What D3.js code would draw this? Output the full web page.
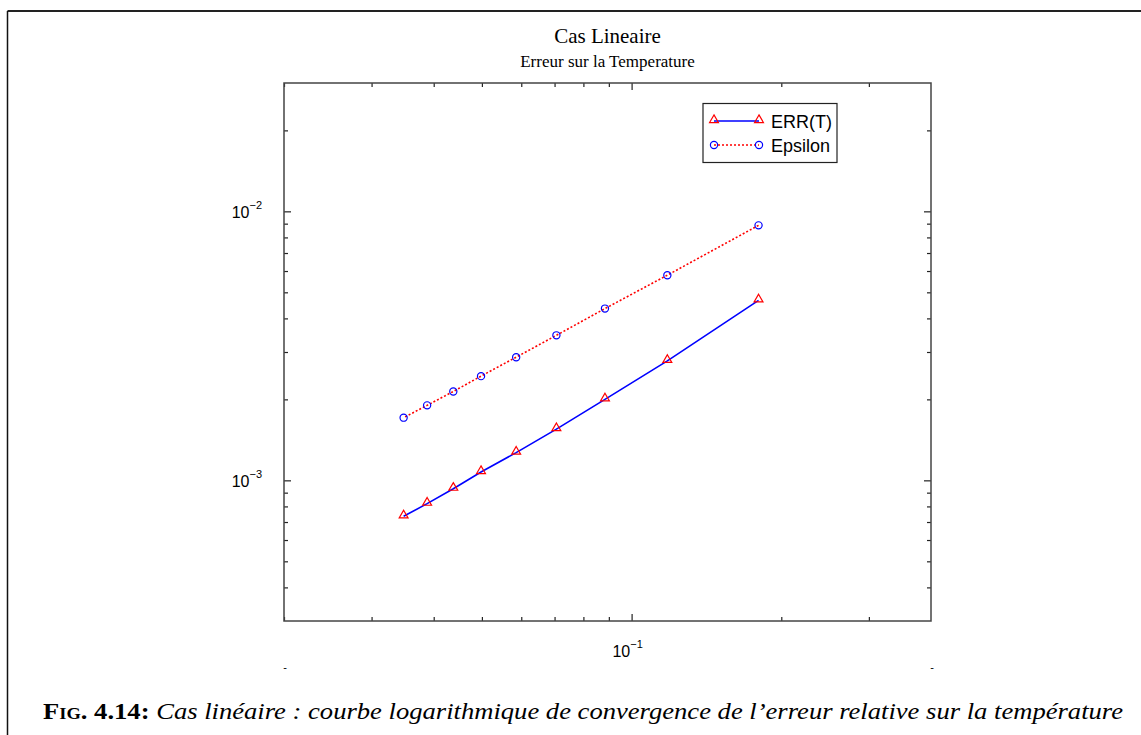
<!DOCTYPE html>
<html>
<head>
<meta charset="utf-8">
<script src="https://cdn.jsdelivr.net/npm/d3@7"></script>
<style>
  body { margin: 0; background: #fff; }
  svg { display: block; }
</style>
</head>
<body>
<div id="chart"></div>
<script>
// data
var hValues = [0.180, 0.118, 0.0884, 0.0706, 0.0586, 0.0498, 0.0438, 0.0388, 0.0348];
var errT    = [4.67e-3, 2.78e-3, 2.0e-3, 1.55e-3, 1.268e-3, 1.074e-3, 9.31e-4, 8.19e-4, 7.35e-4];
var epsilon = [8.87e-3, 5.79e-3, 4.35e-3, 3.46e-3, 2.87e-3, 2.44e-3, 2.14e-3, 1.90e-3, 1.71e-3];
var seriesNames = ["ERR(T)", "Epsilon"];
var xMajor = [0.1], xMinor = [0.02, 0.03, 0.04, 0.05, 0.06, 0.07, 0.08, 0.09, 0.2, 0.3];
var yMajor = [1e-3, 1e-2], yMinor = [4e-4, 5e-4, 6e-4, 7e-4, 8e-4, 9e-4, 2e-3, 3e-3, 4e-3, 5e-3, 6e-3, 7e-3, 8e-3, 9e-3, 2e-2];
var xTickLabels = {0.1: "-1"}, yTickLabels = {0.001: "-3", 0.01: "-2"};

var W = 1141, H = 735;
var pLeft = 284, pRight = 931, pTop = 83, pBottom = 621;

var svg = d3.select("#chart").append("svg").attr("width", W).attr("height", H);

// frame of the figure
svg.append("line").attr("x1", 7.5).attr("x2", W).attr("y1", 11).attr("y2", 11)
    .attr("stroke", "#222").attr("stroke-width", 2);
svg.append("line").attr("x1", 7.5).attr("x2", 7.5).attr("y1", 11).attr("y2", H)
    .attr("stroke", "#111").attr("stroke-width", 1.5);

var x = d3.scaleLog().domain([0.02, 0.4]).range([pLeft, pRight]);
var y = d3.scaleLog().domain([3e-4, 3e-2]).range([pBottom, pTop]);

// titles
svg.append("text").attr("x", (pLeft + pRight) / 2).attr("y", 43)
    .attr("text-anchor", "middle").style("font-family", "'Liberation Serif', 'Times New Roman', serif")
    .style("font-size", "21px").text("Cas Lineaire");
svg.append("text").attr("x", (pLeft + pRight) / 2).attr("y", 67)
    .attr("text-anchor", "middle").style("font-family", "'Liberation Serif', 'Times New Roman', serif")
    .style("font-size", "17px").text("Erreur sur la Temperature");

// ticks on the four sides, pointing inward
function ticks(axisFn, vals, size, tr) {
    var g = svg.append("g").attr("transform", tr)
        .call(axisFn.tickValues(vals).tickSize(size).tickFormat(""));
    g.select(".domain").remove();
    g.selectAll("line").attr("stroke", "#222").attr("stroke-width", 1.2);
}
ticks(d3.axisTop(x), xMajor, 7, "translate(0," + pBottom + ")");
ticks(d3.axisTop(x), xMinor, 4, "translate(0," + pBottom + ")");
ticks(d3.axisBottom(x), xMajor, 7, "translate(0," + pTop + ")");
ticks(d3.axisBottom(x), xMinor, 4, "translate(0," + pTop + ")");
ticks(d3.axisRight(y), yMajor, 7, "translate(" + pLeft + ",0)");
ticks(d3.axisRight(y), yMinor, 4, "translate(" + pLeft + ",0)");
ticks(d3.axisLeft(y), yMajor, 7, "translate(" + pRight + ",0)");
ticks(d3.axisLeft(y), yMinor, 4, "translate(" + pRight + ",0)");

svg.append("rect").attr("x", pLeft).attr("y", pTop)
    .attr("width", pRight - pLeft).attr("height", pBottom - pTop)
    .attr("fill", "none").attr("stroke", "#444").attr("stroke-width", 1.5);

var sans = "'Liberation Sans', Arial, Helvetica, sans-serif";

// tick labels 10^n
yMajor.forEach(function (v) {
    var t = svg.append("text").attr("x", pLeft - 22).attr("y", y(v) + 7)
        .attr("text-anchor", "end").style("font-family", sans).style("font-size", "16px");
    t.append("tspan").text("10");
    t.append("tspan").attr("dy", -9).style("font-size", "11px").text("\u2212" + yTickLabels[v].slice(1));
});
xMajor.forEach(function (v) {
    var t = svg.append("text").attr("x", x(v) - 4).attr("y", pBottom + 36)
        .attr("text-anchor", "middle").style("font-family", sans).style("font-size", "16px");
    t.append("tspan").text("10");
    t.append("tspan").attr("dy", -9).style("font-size", "11px").text("\u2212" + xTickLabels[v].slice(1));
});
// stray dashes under the ends of the axis
[0.02, 0.4].forEach(function (v) {
    svg.append("text").attr("x", x(v) + 1).attr("y", pBottom + 50)
        .attr("text-anchor", "middle").style("font-family", sans).style("font-size", "11px").text("-");
});

// series
var ptsT = hValues.map(function (h, i) { return [h, errT[i]]; });
var ptsE = hValues.map(function (h, i) { return [h, epsilon[i]]; });
var line = d3.line().x(function (d) { return x(d[0]); }).y(function (d) { return y(d[1]); });
var tri = d3.symbol().type(d3.symbolTriangle).size(34);

svg.append("path").datum(ptsE).attr("d", line).attr("fill", "none")
    .attr("stroke", "#ff0000").attr("stroke-width", 1.6).attr("stroke-dasharray", "2,2");
svg.append("path").datum(ptsT).attr("d", line).attr("fill", "none")
    .attr("stroke", "#0000ff").attr("stroke-width", 1.6);

svg.selectAll(".mt").data(ptsT).enter().append("path").attr("class", "mt")
    .attr("d", tri).attr("transform", function (d) { return "translate(" + x(d[0]) + "," + (y(d[1]) - 1) + ")"; })
    .attr("fill", "none").attr("stroke", "#ff0000").attr("stroke-width", 1.2);
svg.selectAll(".me").data(ptsE).enter().append("circle").attr("class", "me")
    .attr("cx", function (d) { return x(d[0]); }).attr("cy", function (d) { return y(d[1]); })
    .attr("r", 3.6).attr("fill", "none").attr("stroke", "#0000ff").attr("stroke-width", 1.2);

// legend
var lg = svg.append("g");
lg.append("rect").attr("x", 703).attr("y", 103.5).attr("width", 134).attr("height", 59)
    .attr("fill", "#fff").attr("stroke", "#222").attr("stroke-width", 1.2);
var rows = [121, 145];
lg.append("line").attr("x1", 714).attr("x2", 759).attr("y1", rows[0]).attr("y2", rows[0])
    .attr("stroke", "#0000ff").attr("stroke-width", 1.6);
lg.append("line").attr("x1", 714).attr("x2", 759).attr("y1", rows[1]).attr("y2", rows[1])
    .attr("stroke", "#ff0000").attr("stroke-width", 1.6).attr("stroke-dasharray", "2,2");
[714, 759].forEach(function (px) {
    lg.append("path").attr("d", tri).attr("transform", "translate(" + px + "," + (rows[0] - 1) + ")")
        .attr("fill", "none").attr("stroke", "#ff0000").attr("stroke-width", 1.2);
    lg.append("circle").attr("cx", px).attr("cy", rows[1]).attr("r", 3.6)
        .attr("fill", "none").attr("stroke", "#0000ff").attr("stroke-width", 1.2);
});
seriesNames.forEach(function (n, i) {
    lg.append("text").attr("x", 771).attr("y", rows[i] + 6.5)
        .style("font-family", sans).style("font-size", "18px").text(n);
});

// caption
var cap = svg.append("text").attr("x", 43).attr("y", 719)
    .attr("textLength", 1080).attr("lengthAdjust", "spacingAndGlyphs")
    .style("font-family", "'Liberation Serif', 'Times New Roman', serif").style("font-size", "23px");
cap.append("tspan").style("font-weight", "bold").style("font-variant", "small-caps").text("Fig. 4.14: ");
cap.append("tspan").style("font-style", "italic")
    .text("Cas lin\u00e9aire : courbe logarithmique de convergence de l\u2019erreur relative sur la temp\u00e9rature");
</script>
</body>
</html>
